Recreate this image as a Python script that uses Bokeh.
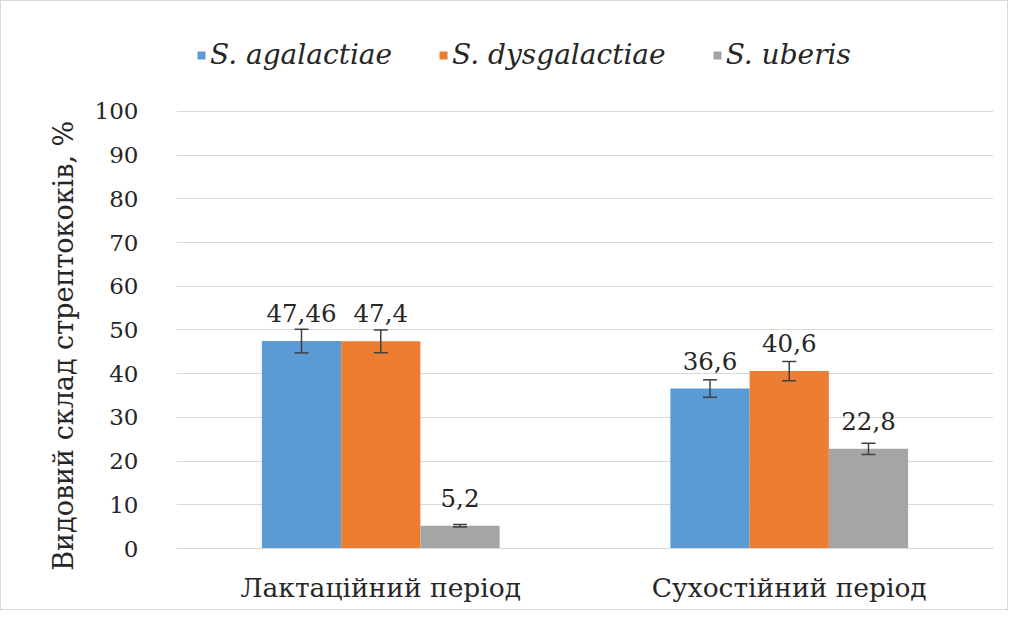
from bokeh.plotting import figure
from bokeh.models import ColumnDataSource, Whisker, LabelSet, Legend, LegendItem, FactorRange, Range1d, TeeHead
from bokeh.core.properties import value
from bokeh.transform import dodge
from bokeh.embed import file_html
from bokeh.resources import INLINE

periods = ["Лактаційний період", "Сухостійний період"]
series = ["S. agalactiae", "S. dysgalactiae", "S. uberis"]
agalactiae = [47.46, 36.6]
dysgalactiae = [47.4, 40.6]
uberis = [5.2, 22.8]
agalactiae_err = [2.7, 2.0]
dysgalactiae_err = [2.6, 2.2]
uberis_err = [0.3, 1.3]
labels_agal = ["47,46", "36,6"]
labels_dysg = ["47,4", "40,6"]
labels_uber = ["5,2", "22,8"]
colors = ["#5b9bd5", "#ed7d31", "#a5a5a5"]
yticks = [0, 10, 20, 30, 40, 50, 60, 70, 80, 90, 100]
y_title = "Видовий склад стрептококів, %"

FONT = "DejaVu Serif"
TXT = "#262626"

p = figure(width=1008, height=610, x_range=FactorRange(*periods), y_range=Range1d(0, 118.3),
           output_backend="svg", toolbar_location=None,
           min_border_left=175, min_border_right=16, min_border_top=30, min_border_bottom=63)
p.x_range.range_padding = 0
p.outline_line_color = None
p.styles = {"border": "1px solid #d9d9d9"}

vals = [agalactiae, dysgalactiae, uberis]
errs = [agalactiae_err, dysgalactiae_err, uberis_err]
labs = [labels_agal, labels_dysg, labels_uber]
offsets = [-0.194, 0.0, 0.194]
items = []
for name, v, e, lab, c, off in zip(series, vals, errs, labs, colors, offsets):
    src = ColumnDataSource(dict(period=periods, val=v,
                                upper=[a + b for a, b in zip(v, e)],
                                lower=[a - b for a, b in zip(v, e)],
                                lab=lab))
    r = p.vbar(x=dodge("period", off, range=p.x_range), top="val", width=0.194,
               source=src, fill_color=c, line_color=None)
    items.append(LegendItem(label=name, renderers=[r]))
    w = Whisker(base=dodge("period", off, range=p.x_range), upper="upper", lower="lower",
                source=src, line_color="#404040", line_width=1.5, level="overlay",
                upper_head=TeeHead(size=14, line_color="#404040", line_width=1.5),
                lower_head=TeeHead(size=14, line_color="#404040", line_width=1.5))
    p.add_layout(w)
    ls = LabelSet(x=dodge("period", off, range=p.x_range), y="val", text="lab", source=src,
                  y_offset=19, text_align="center", text_baseline="alphabetic",
                  text_font=value(FONT), text_font_size=value("24.5px"), text_color=TXT)
    p.add_layout(ls)

legend = Legend(items=items, location=(20, 477), orientation="horizontal",
                label_text_font=FONT, label_text_font_style="italic", label_text_font_size="28px",
                label_text_color=TXT, glyph_width=10, glyph_height=10, label_standoff=4,
                spacing=46, padding=0, margin=0, border_line_color=None,
                background_fill_alpha=0)
p.add_layout(legend, "center")

p.yaxis.ticker = yticks
p.yaxis.axis_line_color = None
p.yaxis.major_tick_line_color = None
p.yaxis.minor_tick_line_color = None
p.yaxis.major_label_text_font = FONT
p.yaxis.major_label_text_font_size = "23px"
p.yaxis.major_label_text_color = TXT
p.yaxis.major_label_standoff = 32
# trailing no-break spaces shift the rotated title's centre down, as in the reference
p.yaxis.axis_label = y_title + "\u00a0" * 13
p.yaxis.axis_label_text_font = FONT
p.yaxis.axis_label_text_font_size = "27px"
p.yaxis.axis_label_text_font_style = "normal"
p.yaxis.axis_label_text_color = TXT
p.yaxis.axis_label_standoff = 13

p.xaxis.axis_line_color = "#d9d9d9"
p.xaxis.major_tick_line_color = None
p.xaxis.minor_tick_line_color = None
p.xaxis.major_label_text_font = FONT
p.xaxis.major_label_text_font_size = "26.5px"
p.xaxis.major_label_text_color = TXT
p.xaxis.major_label_standoff = 17

p.xgrid.grid_line_color = None
p.ygrid.grid_line_color = "#d9d9d9"
p.ygrid.grid_line_width = 1

open("out.html", "w").write(file_html(p, INLINE))
